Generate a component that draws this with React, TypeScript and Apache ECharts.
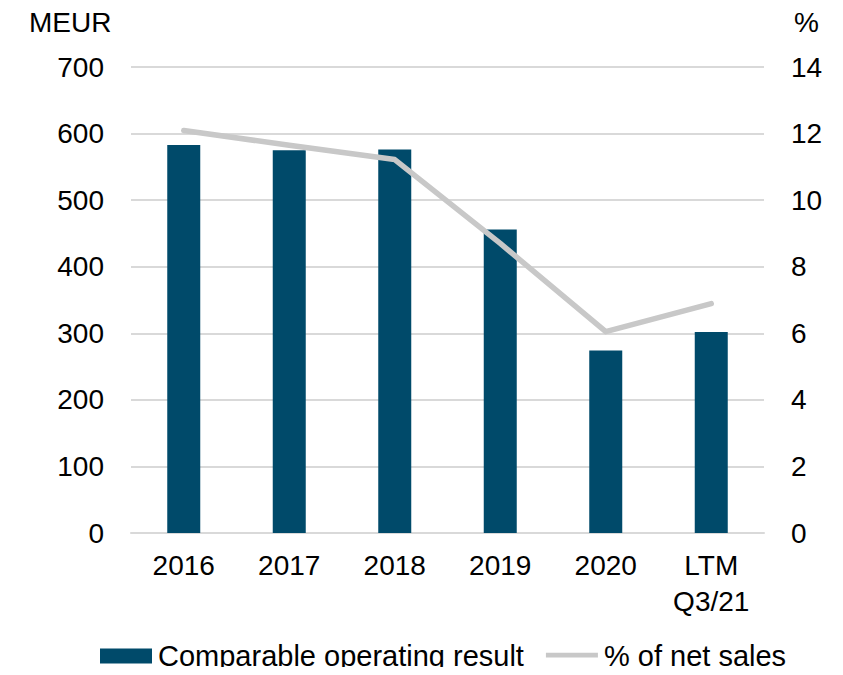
import React, { useEffect, useRef } from "react";
import * as echarts from "echarts";

const categories = ["2016", "2017", "2018", "2019", "2020", "LTM\nQ3/21"];
const operatingResult = [583, 575, 576, 456, 274, 302];
const pctOfSales = [12.09, 11.65, 11.22, 8.7, 6.05, 6.89];
const leftTicks = { min: 0, max: 700, interval: 100 };
const rightTicks = { min: 0, max: 14, interval: 2 };

const FONT = "Liberation Sans, Arial, sans-serif";
const LINE_ICON = "path://M0,0 L0,0 M0,4 L55,4 L55,9 L0,9 Z M55,15 L55,15";

export default function App() {
  const ref = useRef<HTMLDivElement>(null);
  useEffect(() => {
    const chart = echarts.init(ref.current!, undefined, { renderer: "svg" });
    chart.setOption({
      animation: false,
      textStyle: { fontFamily: FONT },
      grid: { left: 131, right: 79, top: 67, bottom: 142 },
      legend: {
        left: 100,
        top: 641,
        padding: 0,
        itemWidth: 52,
        itemHeight: 15,
        itemGap: 22,
        textStyle: { fontSize: 29, lineHeight: 30, color: "#000", fontFamily: FONT, padding: [0, 0, 0, 1] },
        data: [
          { name: "Comparable operating result", icon: "rect" },
          { name: "% of net sales", icon: LINE_ICON, itemStyle: { color: "#c8c8c8" } },
        ],
      },
      graphic: [
        { type: "text", left: 29, top: 8, style: { text: "MEUR", fontSize: 28, fontFamily: FONT, fill: "#000" } },
        { type: "text", left: 794, top: 8, style: { text: "%", fontSize: 28, fontFamily: FONT, fill: "#000" } },
      ],
      xAxis: {
        type: "category",
        data: categories,
        axisTick: { show: false },
        axisLine: { lineStyle: { color: "#d9d9d9", width: 2 } },
        axisLabel: { fontSize: 28, color: "#000", margin: 14, lineHeight: 36, fontFamily: FONT },
      },
      yAxis: [
        {
          type: "value",
          ...leftTicks,
          axisLabel: { fontSize: 28, color: "#000", margin: 27, fontFamily: FONT },
          splitLine: { lineStyle: { color: "#d9d9d9", width: 2 } },
          axisLine: { show: false },
          axisTick: { show: false },
        },
        {
          type: "value",
          ...rightTicks,
          axisLabel: { fontSize: 28, color: "#000", margin: 27, fontFamily: FONT },
          splitLine: { show: false },
          axisLine: { show: false },
          axisTick: { show: false },
        },
      ],
      series: [
        {
          name: "Comparable operating result",
          type: "bar",
          data: operatingResult,
          barWidth: 33,
          itemStyle: { color: "#004a6a" },
          yAxisIndex: 0,
        },
        {
          name: "% of net sales",
          type: "line",
          data: pctOfSales,
          yAxisIndex: 1,
          symbol: "none",
          lineStyle: { color: "#c8c8c8", width: 5.5, cap: "round", join: "round" },
          itemStyle: { color: "#c8c8c8" },
        },
      ],
    });
    return () => chart.dispose();
  }, []);
  return <div ref={ref} style={{ width: 843, height: 675, margin: -8 }} />;
}
